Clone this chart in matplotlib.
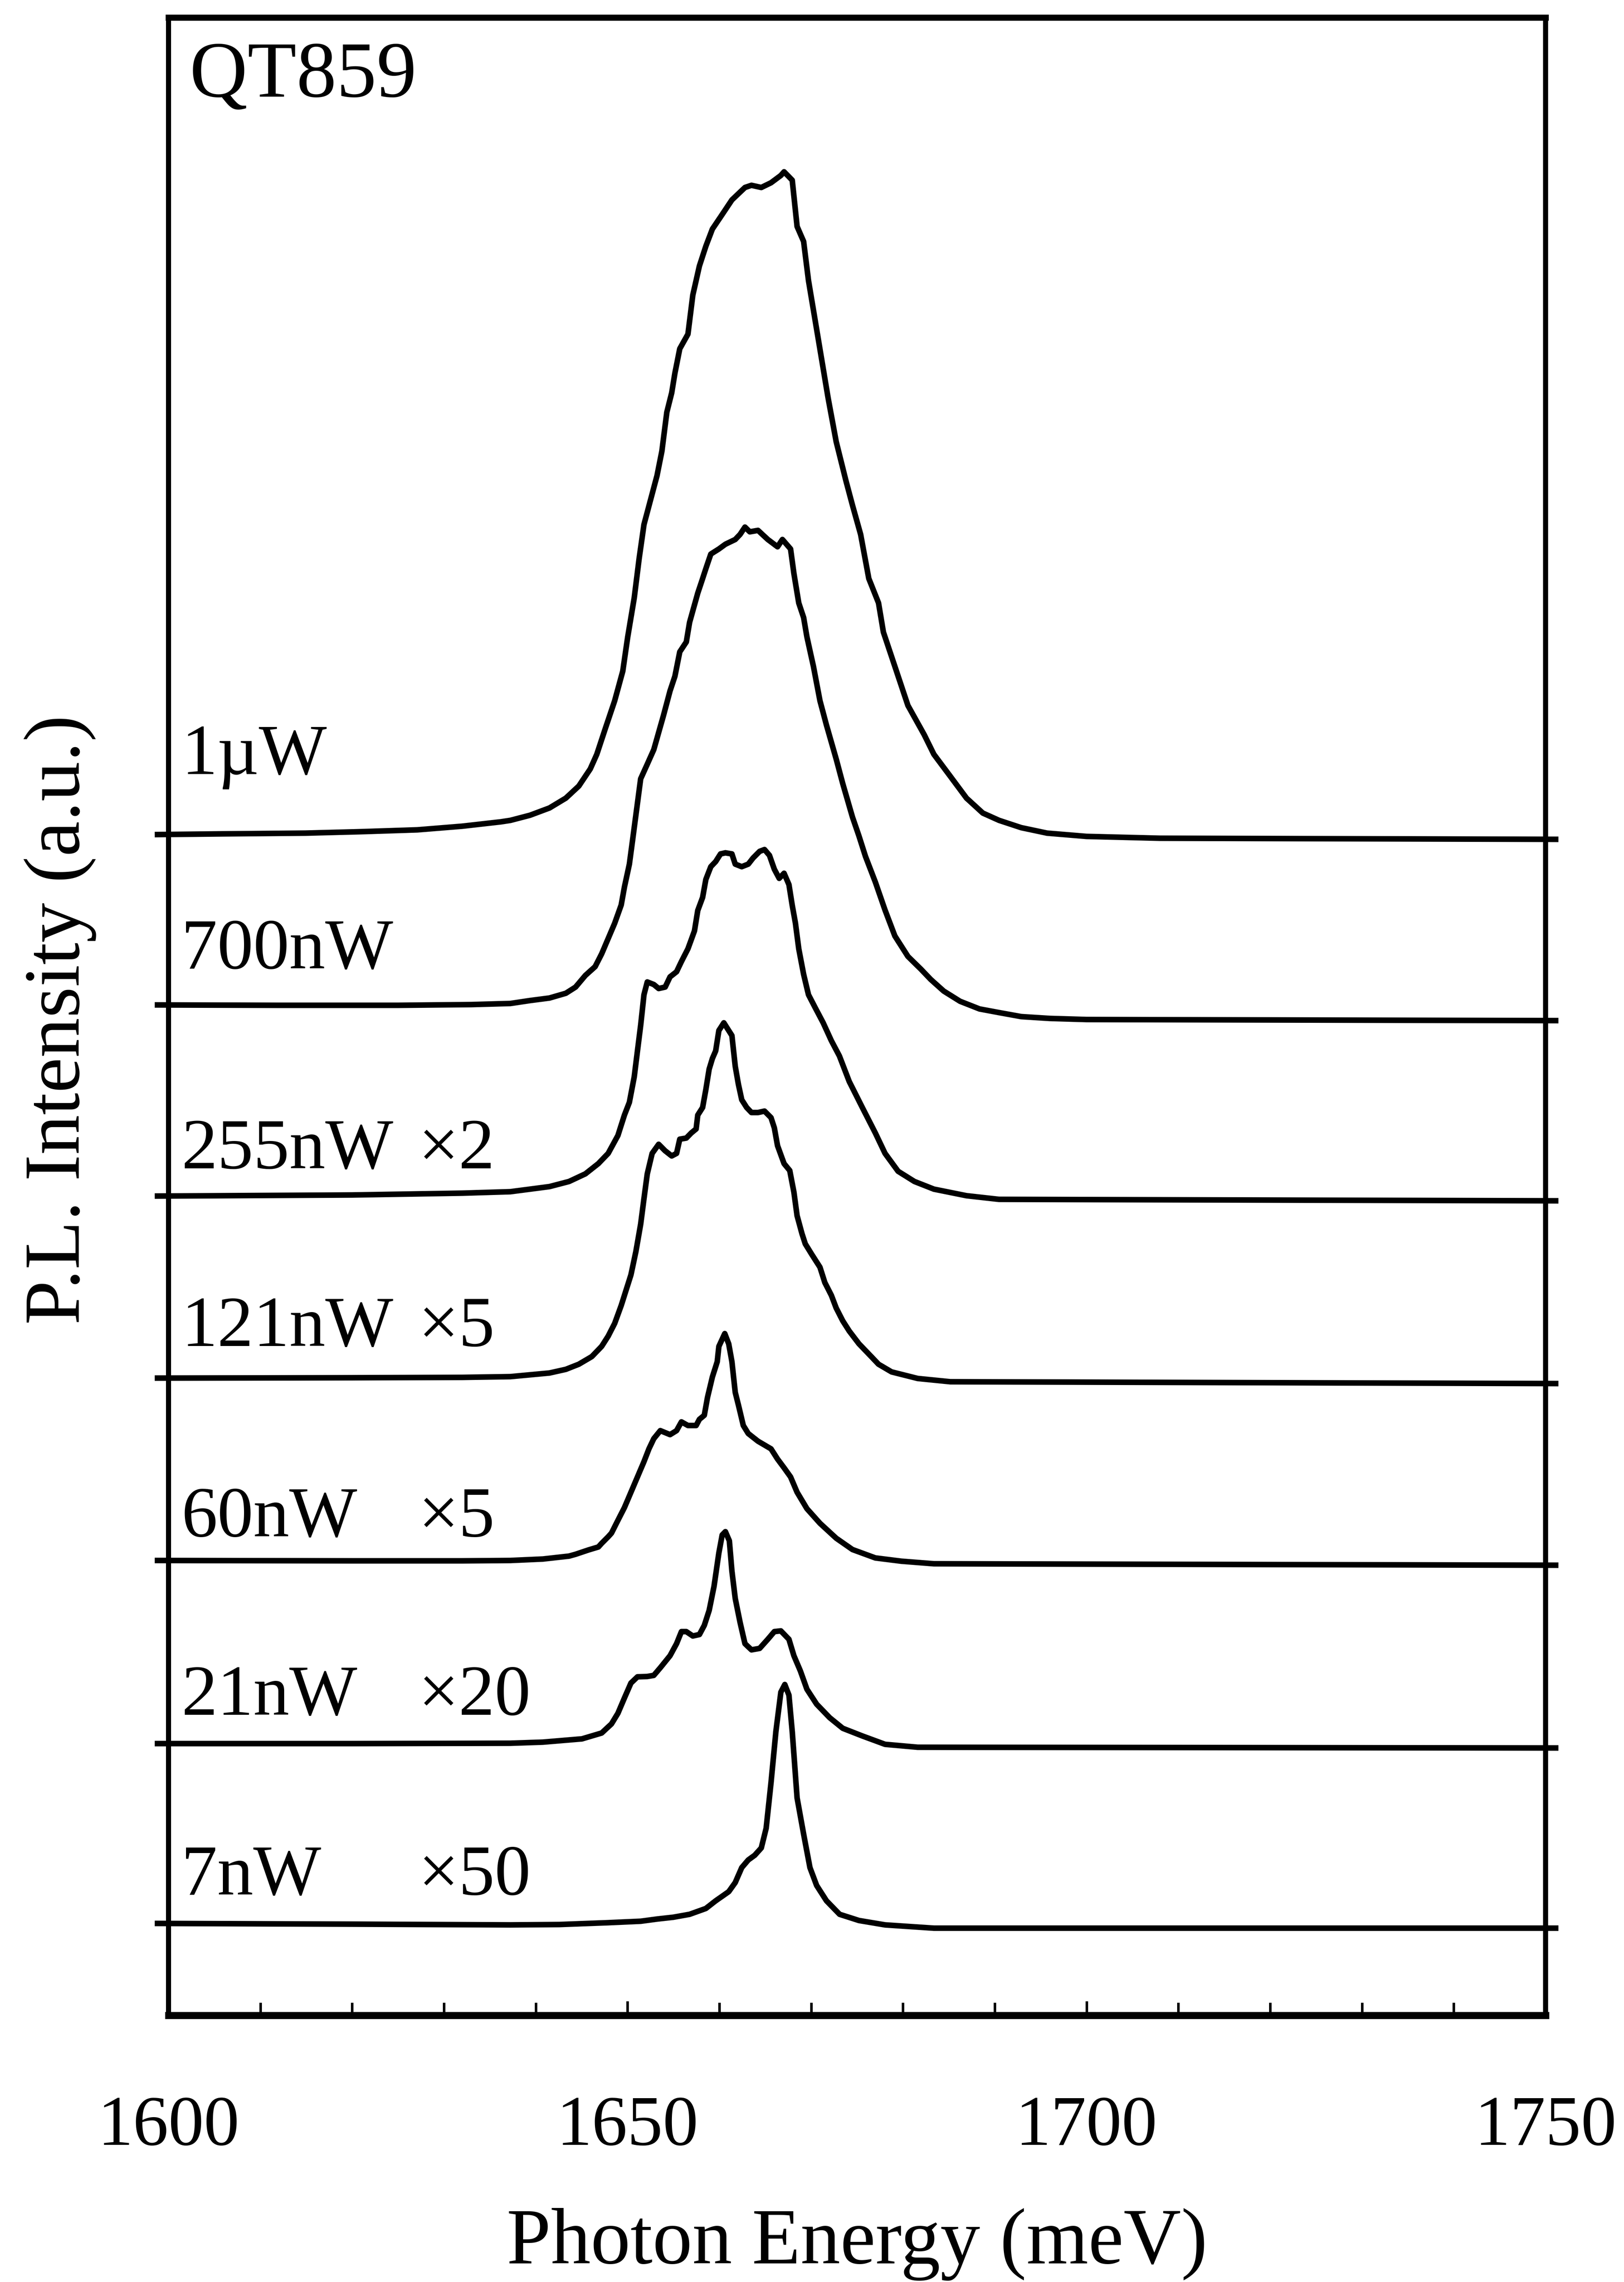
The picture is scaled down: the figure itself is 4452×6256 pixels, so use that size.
import matplotlib
matplotlib.use("Agg")
import matplotlib.pyplot as plt
from matplotlib.ticker import MultipleLocator, FixedLocator

plt.rcParams['font.family'] = ['Liberation Serif', 'DejaVu Serif']

# ---- PL spectra of sample QT859 (photon energy in meV, intensity in a.u.) ----
# Each spectrum is stacked on its own baseline; intensities are already scaled
# by the factor written next to the excitation power.

e_1uW = [1598.5, 1606.0, 1614.9, 1621.0, 1627.1, 1632.0, 1636.2, 1637.24, 1639.37, 1641.50, 1643.28, 1644.69, 1645.94,
         1646.65, 1647.53, 1648.60, 1649.48, 1650.02, 1650.73, 1651.26, 1651.79, 1652.50, 1653.21,
         1653.74, 1654.28, 1654.81, 1655.16, 1655.69, 1656.58, 1657.11, 1657.83, 1658.53, 1659.24,
         1660.31, 1661.37, 1662.79, 1663.50, 1664.57, 1665.63, 1666.70, 1667.05, 1667.94, 1668.47,
         1669.18, 1669.71, 1670.60, 1671.31, 1671.84, 1672.73, 1673.79, 1674.50, 1675.39, 1676.28,
         1677.34, 1677.87, 1679.12, 1680.54, 1682.31, 1683.37, 1685.15, 1686.92, 1688.70, 1690.47,
         1692.88, 1695.7, 1700.0, 1708.0, 1751.4]
i_1uW = [0.13, 0.15, 0.17, 0.21, 0.26, 0.36, 0.48, 0.52, 0.66, 0.86, 1.13, 1.46, 1.93,
         2.33, 3.00, 3.80, 4.61, 5.55, 6.62, 7.69, 8.63, 9.30, 9.97,
         10.64, 11.71, 12.24, 12.78, 13.45, 13.85, 14.92, 15.72, 16.26, 16.73,
         17.13, 17.53, 17.87, 17.93, 17.87, 18.00, 18.20, 18.30, 18.07, 16.80,
         16.39, 15.32, 13.98, 12.91, 12.11, 10.90, 9.83, 9.16, 8.36, 7.15,
         6.48, 5.68, 4.74, 3.67, 2.87, 2.33, 1.73, 1.13, 0.72, 0.52,
         0.32, 0.17, 0.08, 0.03, 0.0]

e_700nW = [1598.5, 1612.0, 1625.0, 1633.0, 1637.24, 1639.37, 1641.50, 1643.28, 1644.34, 1645.41, 1646.47,
           1647.18, 1647.89, 1648.60, 1649.31, 1649.66, 1650.20, 1650.55, 1651.43, 1652.15, 1652.86,
           1653.92, 1654.63, 1655.16, 1655.69, 1656.40, 1656.76, 1657.65, 1658.18, 1658.53, 1659.07,
           1659.95, 1660.66, 1661.73, 1662.26, 1662.79, 1663.32, 1664.21, 1665.28, 1666.34, 1666.87,
           1667.76, 1668.12, 1668.65, 1669.18, 1669.54, 1670.25, 1670.96, 1671.67, 1672.73, 1673.44,
           1674.50, 1675.21, 1675.92, 1676.99, 1678.05, 1679.12, 1680.54, 1681.96, 1683.02, 1684.44,
           1686.22, 1688.34, 1690.47, 1692.88, 1696.0, 1700.0, 1751.4]
i_700nW = [0.43, 0.42, 0.42, 0.44, 0.47, 0.55, 0.62, 0.75, 0.92, 1.24, 1.48,
           1.83, 2.25, 2.67, 3.17, 3.66, 4.29, 4.95, 6.63, 7.03, 7.43,
           8.37, 9.04, 9.44, 10.11, 10.38, 10.92, 11.72, 12.12, 12.39, 12.79,
           12.93, 13.06, 13.19, 13.33, 13.53, 13.40, 13.44, 13.19, 12.99, 13.19,
           12.93, 12.26, 11.45, 11.05, 10.52, 9.71, 8.77, 8.10, 7.17, 6.50,
           5.58, 5.06, 4.50, 3.80, 3.03, 2.32, 1.76, 1.41, 1.13, 0.81,
           0.53, 0.32, 0.22, 0.11, 0.06, 0.03, 0.0]

e_255nW = [1598.5, 1620.0, 1632.0, 1637.24, 1639.37, 1641.50, 1643.63, 1645.41, 1646.82, 1647.89, 1648.95,
           1649.66, 1650.20, 1650.73, 1651.08, 1651.43, 1651.79, 1652.15, 1652.86, 1653.39, 1654.10,
           1654.63, 1655.34, 1655.87, 1656.58, 1657.29, 1657.65, 1658.18, 1658.53, 1659.07, 1659.60,
           1660.13, 1660.66, 1661.37, 1661.73, 1662.44, 1663.15, 1663.68, 1664.39, 1664.92, 1665.46,
           1665.99, 1666.52, 1667.05, 1667.58, 1667.94, 1668.29, 1668.65, 1669.18, 1669.71, 1670.43,
           1671.31, 1672.20, 1673.08, 1674.15, 1675.57, 1676.99, 1678.05, 1679.47, 1681.25, 1683.37,
           1686.92, 1690.47, 1751.4]
i_255nW = [0.13, 0.16, 0.21, 0.25, 0.32, 0.39, 0.53, 0.74, 1.02, 1.30, 1.79,
           2.35, 2.70, 3.40, 4.11, 4.81, 5.65, 6.00, 5.93, 5.82, 5.86,
           6.14, 6.28, 6.56, 6.91, 7.40, 7.96, 8.32, 8.81, 9.16, 9.30,
           9.51, 9.54, 9.51, 9.23, 9.16, 9.23, 9.40, 9.58, 9.63, 9.47,
           9.09, 8.84, 8.98, 8.67, 8.10, 7.61, 6.91, 6.21, 5.65, 5.30,
           4.88, 4.39, 3.97, 3.27, 2.56, 1.86, 1.30, 0.81, 0.53, 0.32,
           0.14, 0.04, 0.0]

e_121nW = [1598.5, 1620.0, 1632.0, 1637.24, 1639.37, 1641.50, 1643.28, 1644.69, 1646.11, 1647.18, 1647.89,
           1648.60, 1649.31, 1649.84, 1650.37, 1650.91, 1651.43, 1651.79, 1652.15, 1652.68, 1653.39,
           1654.10, 1654.81, 1655.34, 1655.69, 1656.40, 1656.94, 1657.47, 1657.65, 1658.18, 1658.53,
           1658.89, 1659.24, 1659.60, 1659.95, 1660.49, 1660.84, 1661.37, 1661.73, 1662.08, 1662.44,
           1662.97, 1663.50, 1664.21, 1664.92, 1665.63, 1665.99, 1666.34, 1667.05, 1667.67, 1668.12,
           1668.47, 1669.00, 1669.36, 1670.07, 1670.96, 1671.49, 1672.20, 1672.73, 1673.44, 1674.15,
           1675.21, 1676.28, 1677.34, 1678.76, 1681.60, 1685.15, 1751.4]
i_121nW = [0.15, 0.16, 0.17, 0.19, 0.24, 0.29, 0.39, 0.53, 0.74, 1.02, 1.30,
           1.65, 2.14, 2.56, 2.98, 3.62, 4.37, 5.07, 5.75, 6.31, 6.56,
           6.38, 6.24, 6.31, 6.70, 6.73, 6.87, 6.98, 7.36, 7.57, 8.06,
           8.62, 8.91, 9.12, 9.68, 9.89, 9.75, 9.54, 8.70, 8.20, 7.78,
           7.57, 7.43, 7.43, 7.47, 7.29, 7.01, 6.52, 6.03, 5.84, 5.25,
           4.60, 4.11, 3.83, 3.54, 3.19, 2.77, 2.42, 2.07, 1.72, 1.44,
           1.09, 0.81, 0.53, 0.32, 0.14, 0.05, 0.0]

e_60nW = [1598.5, 1620.0, 1632.0, 1637.24, 1640.78, 1643.63, 1644.34, 1645.76, 1646.82, 1647.18, 1647.89,
          1648.25, 1648.95, 1649.66, 1650.37, 1651.08, 1651.79, 1652.33, 1652.86, 1653.57, 1654.63,
          1655.34, 1655.87, 1656.58, 1657.47, 1657.83, 1658.36, 1658.71, 1659.24, 1659.77, 1659.95,
          1660.59, 1661.02, 1661.37, 1661.73, 1662.08, 1662.61, 1663.15, 1664.21, 1665.63, 1666.34,
          1667.05, 1667.76, 1668.47, 1669.54, 1670.96, 1672.73, 1674.50, 1676.99, 1679.83, 1683.37,
          1751.4]
i_60nW = [0.13, 0.12, 0.12, 0.13, 0.17, 0.25, 0.30, 0.42, 0.50, 0.60, 0.78,
          0.88, 1.23, 1.58, 2.00, 2.42, 2.84, 3.19, 3.47, 3.69, 3.58,
          3.69, 3.93, 3.83, 3.83, 4.00, 4.11, 4.60, 5.16, 5.58, 6.00,
          6.35, 6.07, 5.58, 4.74, 4.39, 3.83, 3.61, 3.40, 3.19, 2.91,
          2.67, 2.42, 2.00, 1.55, 1.15, 0.74, 0.43, 0.20, 0.11, 0.04,
          0.0]

e_21nW = [1598.5, 1620.0, 1637.24, 1640.78, 1645.04, 1647.18, 1648.25, 1648.95, 1649.66, 1650.37,
          1651.08, 1652.15, 1652.86, 1653.57, 1654.63, 1655.34, 1655.87, 1656.40, 1657.11, 1657.83,
          1658.36, 1658.89, 1659.42, 1659.95, 1660.31, 1660.66, 1661.09, 1661.37, 1661.73, 1662.26,
          1662.79, 1663.50, 1664.39, 1665.28, 1665.99, 1666.70, 1667.58, 1668.12, 1668.83, 1669.54,
          1670.60, 1672.02, 1673.44, 1675.57, 1678.05, 1681.6, 1751.4]
i_21nW = [0.12, 0.12, 0.13, 0.16, 0.25, 0.41, 0.66, 0.95, 1.37, 1.78,
          1.95, 1.96, 1.99, 2.20, 2.53, 2.86, 3.19, 3.19, 3.07, 3.11,
          3.36, 3.77, 4.43, 5.35, 5.84, 5.93, 5.68, 4.85, 4.10, 3.44,
          2.86, 2.69, 2.73, 2.98, 3.19, 3.21, 2.98, 2.53, 2.11, 1.61,
          1.20, 0.83, 0.54, 0.33, 0.10, 0.02, 0.0]

e_7nW = [1598.5, 1620.0, 1637.24, 1642.57, 1647.89, 1651.43, 1653.21, 1654.99, 1656.76, 1658.53,
         1659.60, 1661.02, 1661.73, 1662.44, 1663.15, 1663.86, 1664.57, 1665.10, 1665.63, 1666.16,
         1666.70, 1667.13, 1667.58, 1667.94, 1668.47, 1669.18, 1669.87, 1670.60, 1671.67, 1673.10,
         1675.21, 1678.05, 1683.37, 1751.4]
i_7nW = [0.13, 0.11, 0.09, 0.10, 0.15, 0.19, 0.25, 0.30, 0.38, 0.54,
         0.75, 1.00, 1.25, 1.66, 1.87, 2.00, 2.20, 2.74, 3.99, 5.39,
         6.47, 6.68, 6.39, 5.39, 3.57, 2.58, 1.66, 1.17, 0.75, 0.38,
         0.21, 0.09, 0.0, 0.0]

energies = [e_1uW, e_700nW, e_255nW, e_121nW, e_60nW, e_21nW, e_7nW]
intensities = [i_1uW, i_700nW, i_255nW, i_121nW, i_60nW, i_21nW, i_7nW]
baselines = [32.24, 27.27, 22.33, 17.32, 12.34, 7.33, 2.39]

power_labels = ["1\u00b5W", "700nW", "255nW", "121nW", "60nW", "21nW", "7nW"]
scale_labels = ["", "", "\u00d72", "\u00d75", "\u00d75", "\u00d720", "\u00d750"]
label_heights = [34.03, 28.70, 23.22, 18.35, 13.13, 8.24, 3.31]

x_ticks = [1600, 1650, 1700, 1750]
sample_name = "QT859"

# ---- figure ----
fig = plt.figure(figsize=(44.52, 62.56), dpi=100)
ax = fig.add_axes([0.10377, 0.11685, 0.84794, 0.87548])

for e, inten, base in zip(energies, intensities, baselines):
    ax.plot(e, [base + v for v in inten], color='black', lw=11,
            solid_joinstyle='round', solid_capstyle='butt', clip_on=False)

for txt, mult, y in zip(power_labels, scale_labels, label_heights):
    ax.text(1601.4, y, txt, fontsize=142, ha='left', va='baseline')
    if mult:
        ax.text(1627.2, y, mult, fontsize=142, ha='left', va='baseline')

ax.text(1602.3, 52.6, sample_name, fontsize=158, ha='left', va='baseline')

ax.set_xlim(1600, 1750)
ax.set_ylim(0, 54.77)

ax.xaxis.set_major_locator(FixedLocator(x_ticks))
ax.xaxis.set_minor_locator(MultipleLocator(10))
ax.set_xticklabels([str(t) for t in x_ticks])
ax.set_yticks([])
ax.tick_params(axis='x', which='both', direction='in', top=False, bottom=True,
               width=5, labelsize=140, pad=158)
ax.tick_params(axis='x', which='major', length=28)
ax.tick_params(axis='x', which='minor', length=25)

ax.spines['top'].set_linewidth(12)
ax.spines['bottom'].set_linewidth(14)
ax.spines['left'].set_linewidth(10)
ax.spines['right'].set_linewidth(10)

fig.text(2350 / 4452, 1 - 6205 / 6256, "Photon Energy (meV)", fontsize=157,
         ha='center', va='baseline')
fig.text(265 / 4452, 1 - 2795 / 6256, "P.L. Intensity (a.u.)", fontsize=157,
         rotation=90, ha='right', va='center')

fig.savefig('out.png', dpi=100, facecolor='white')
